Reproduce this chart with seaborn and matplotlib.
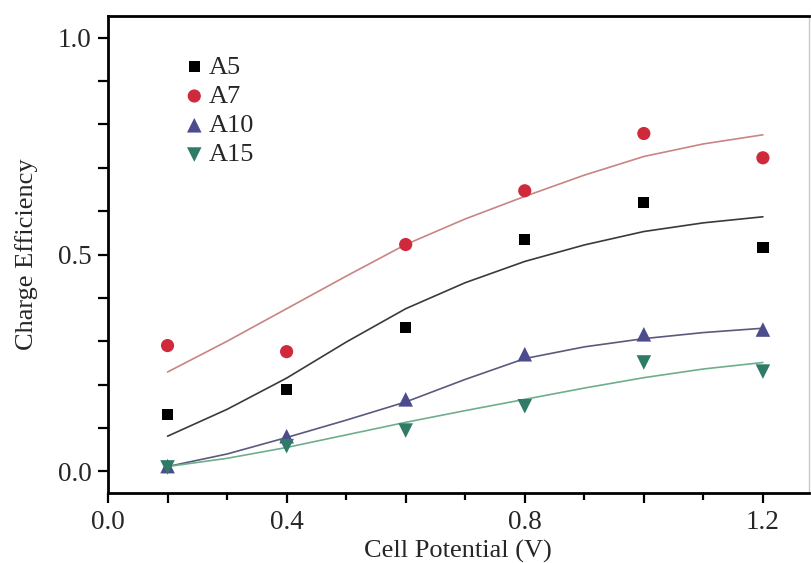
import numpy as np
import pandas as pd
import matplotlib
matplotlib.use("Agg")
import matplotlib.pyplot as plt
import seaborn as sns
from matplotlib.ticker import MultipleLocator

sns.set_theme(style="white")
plt.rcParams['font.family'] = ['Liberation Serif', 'DejaVu Serif']

# ---- data ----
potential = [0.2, 0.4, 0.6, 0.8, 1.0, 1.2]
a5 = [0.131, 0.189, 0.332, 0.535, 0.620, 0.516]
a7 = [0.290, 0.276, 0.523, 0.647, 0.779, 0.723]
a10 = [0.012, 0.081, 0.166, 0.270, 0.316, 0.327]
a15 = [0.009, 0.058, 0.094, 0.150, 0.251, 0.230]

fit_x = [0.2, 0.3, 0.4, 0.5, 0.6, 0.7, 0.8, 0.9, 1.0, 1.1, 1.2]
fit_a5 = [0.081, 0.143, 0.215, 0.298, 0.375, 0.435, 0.484, 0.522, 0.553, 0.573, 0.587]
fit_a7 = [0.229, 0.300, 0.375, 0.450, 0.523, 0.582, 0.634, 0.683, 0.726, 0.755, 0.776]
fit_a10 = [0.011, 0.040, 0.078, 0.118, 0.160, 0.212, 0.260, 0.287, 0.306, 0.320, 0.330]
fit_a15 = [0.011, 0.030, 0.055, 0.084, 0.113, 0.140, 0.166, 0.192, 0.216, 0.236, 0.251]

series = ["A5", "A7", "A10", "A15"]
xtick_pos = [0.1, 0.2, 0.4, 0.6, 0.8, 1.0, 1.2]
xtick_labels = ["0.0", "", "0.4", "", "0.8", "", "1.2"]
ytick_pos = [0.0, 0.5, 1.0]
ytick_labels = ["0.0", "0.5", "1.0"]

pts = pd.DataFrame({
    "x": potential * 4,
    "y": a5 + a7 + a10 + a15,
    "series": sum([[s] * len(potential) for s in series], []),
})
fits = pd.DataFrame({
    "x": fit_x * 4,
    "y": fit_a5 + fit_a7 + fit_a10 + fit_a15,
    "series": sum([[s] * len(fit_x) for s in series], []),
})

marker_colors = {"A5": "#000000", "A7": "#cf2a3c", "A10": "#4b4b8e", "A15": "#2f7b68"}
line_colors = {"A5": "#3a3a3a", "A7": "#c98484", "A10": "#5a5a7c", "A15": "#6fae8c"}
markers = {"A5": "s", "A7": "o", "A10": "^", "A15": "v"}
sizes = {"A5": 65, "A7": 90, "A10": 110, "A15": 110}

fig = plt.figure(figsize=(8.12, 5.63), dpi=100)
ax = fig.add_axes([0.133, 0.1243, 0.863, 0.8473])

sns.lineplot(data=fits, x="x", y="y", hue="series", palette=line_colors,
             hue_order=series, lw=1.2, legend=False, ax=ax, zorder=2)
for s in series:
    sub = pts[pts.series == s]
    sns.scatterplot(data=sub, x="x", y="y", marker=markers[s], s=sizes[s],
                    color=marker_colors[s], edgecolor="none", label=s, ax=ax, zorder=3)

ax.set_xlim(0.1, 1.277)
ax.set_ylim(-0.05, 1.05)
ax.set_xticks(xtick_pos)
ax.set_xticklabels(xtick_labels)
ax.set_yticks(ytick_pos)
ax.set_yticklabels(ytick_labels)
ax.xaxis.set_minor_locator(MultipleLocator(0.1))
ax.yaxis.set_minor_locator(MultipleLocator(0.1))
ax.tick_params(axis="both", which="both", direction="out", length=7, width=1.6,
               color="black", labelsize=19.5, bottom=True, left=True)
ax.tick_params(axis="x", which="minor", length=5)
ax.tick_params(axis="x", which="major", pad=5)
ax.tick_params(axis="y", which="major", pad=5)

for side in ["left", "bottom", "top"]:
    ax.spines[side].set_color("black")
    ax.spines[side].set_linewidth(2.0)
ax.spines["right"].set_color("#c8c8c8")
ax.spines["right"].set_linewidth(1.0)

ax.set_xlabel("Cell Potential (V)", fontsize=19, labelpad=4)
ax.set_ylabel("Charge Efficiency", fontsize=19, labelpad=14)

ax.legend(loc="upper left", bbox_to_anchor=(0.093, 0.94), frameon=False,
          fontsize=19, handlelength=0.8, handletextpad=0.15, labelspacing=0.22,
          borderaxespad=0)

fig.savefig("out.png", dpi=100)
